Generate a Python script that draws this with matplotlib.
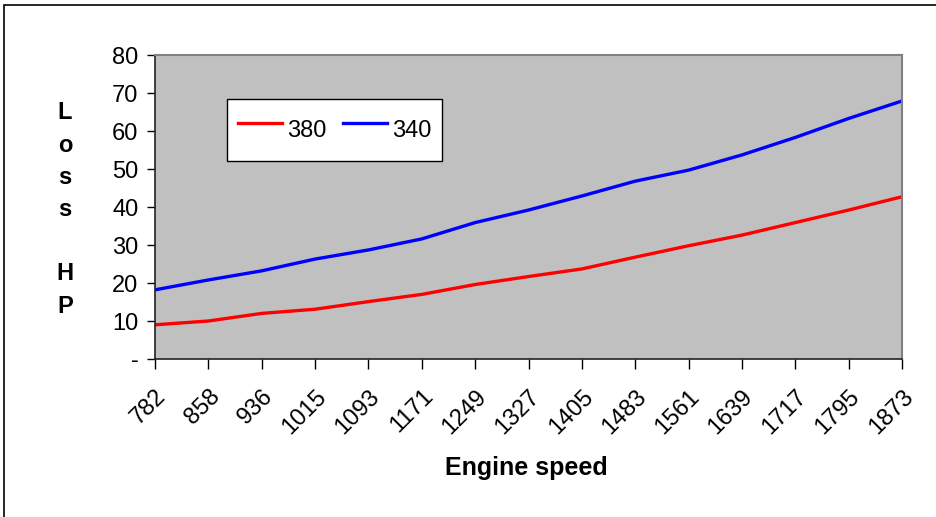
import matplotlib
matplotlib.use("Agg")
import matplotlib.pyplot as plt
from matplotlib.patches import Rectangle

plt.rcParams['font.family'] = ['Liberation Sans', 'DejaVu Sans']

# engine speed categories
speeds = ["782", "858", "936", "1015", "1093", "1171", "1249", "1327",
          "1405", "1483", "1561", "1639", "1717", "1795", "1873"]
# loss HP per series
loss_380 = [9.0, 10.0, 12.0, 13.1, 15.1, 17.0, 19.6, 21.7,
            23.7, 26.8, 29.8, 32.6, 35.9, 39.2, 42.7]
loss_340 = [18.2, 20.8, 23.2, 26.3, 28.7, 31.6, 35.9, 39.2,
            42.9, 46.8, 49.7, 53.7, 58.3, 63.3, 67.9]
y_ticks = [0, 10, 20, 30, 40, 50, 60, 70, 80]
y_labels = ["-", "10", "20", "30", "40", "50", "60", "70", "80"]

W, H = 937, 517
fig = plt.figure(figsize=(W / 100, H / 100), dpi=100)
fig.patch.set_facecolor("white")

# outer chart frame
fig.patches.append(Rectangle((4 / W, -0.1), 1.2, (H - 5) / H + 0.1,
                             transform=fig.transFigure, fill=False,
                             edgecolor="black", linewidth=1.2))

ax = fig.add_axes([155 / W, (H - 359) / H, (902 - 155) / W, (359 - 55) / H])
ax.set_facecolor("#C0C0C0")

x = list(range(len(speeds)))
ax.plot(x, loss_380, color="#FF0000", linewidth=2.4, label="380")
ax.plot(x, loss_340, color="#0000FF", linewidth=2.4, label="340")

ax.set_xlim(0, len(speeds) - 1)
ax.set_ylim(0, 80)
ax.set_yticks(y_ticks)
ax.set_yticklabels(y_labels, fontsize=17)
ax.set_xticks(x)
ax.set_xticklabels(speeds, fontsize=17, rotation=45, ha="right",
                   rotation_mode="anchor")
ax.tick_params(axis="x", length=7, width=1, color="black", pad=12)
ax.tick_params(axis="y", length=6, width=1, color="black", pad=6)

for side in ["left", "bottom"]:
    ax.spines[side].set_color("#222222")
    ax.spines[side].set_linewidth(1.2)
for side in ["top", "right"]:
    ax.spines[side].set_color("#808080")
    ax.spines[side].set_linewidth(1.5)

ax.set_xlabel("Engine speed", fontsize=18, fontweight="bold")
ax.xaxis.set_label_coords(0.497, -0.32)

fig.text(65 / W, 1 - 209.5 / H, "L\no\ns\ns\n\nH\nP", fontsize=17,
         fontweight="bold", ha="center", va="center", linespacing=1.51)

leg = ax.legend(loc="upper left", bbox_to_anchor=(227 / W, 1 - 99 / H),
                bbox_transform=fig.transFigure, ncol=2, fontsize=17,
                frameon=True, fancybox=False, shadow=False, framealpha=1,
                borderpad=0.45, handlelength=1.9, handletextpad=0.2,
                columnspacing=0.68, handleheight=2.27, borderaxespad=0)
leg.get_frame().set_edgecolor("black")
leg.get_frame().set_linewidth(1.0)

fig.savefig("out.png", dpi=100)
